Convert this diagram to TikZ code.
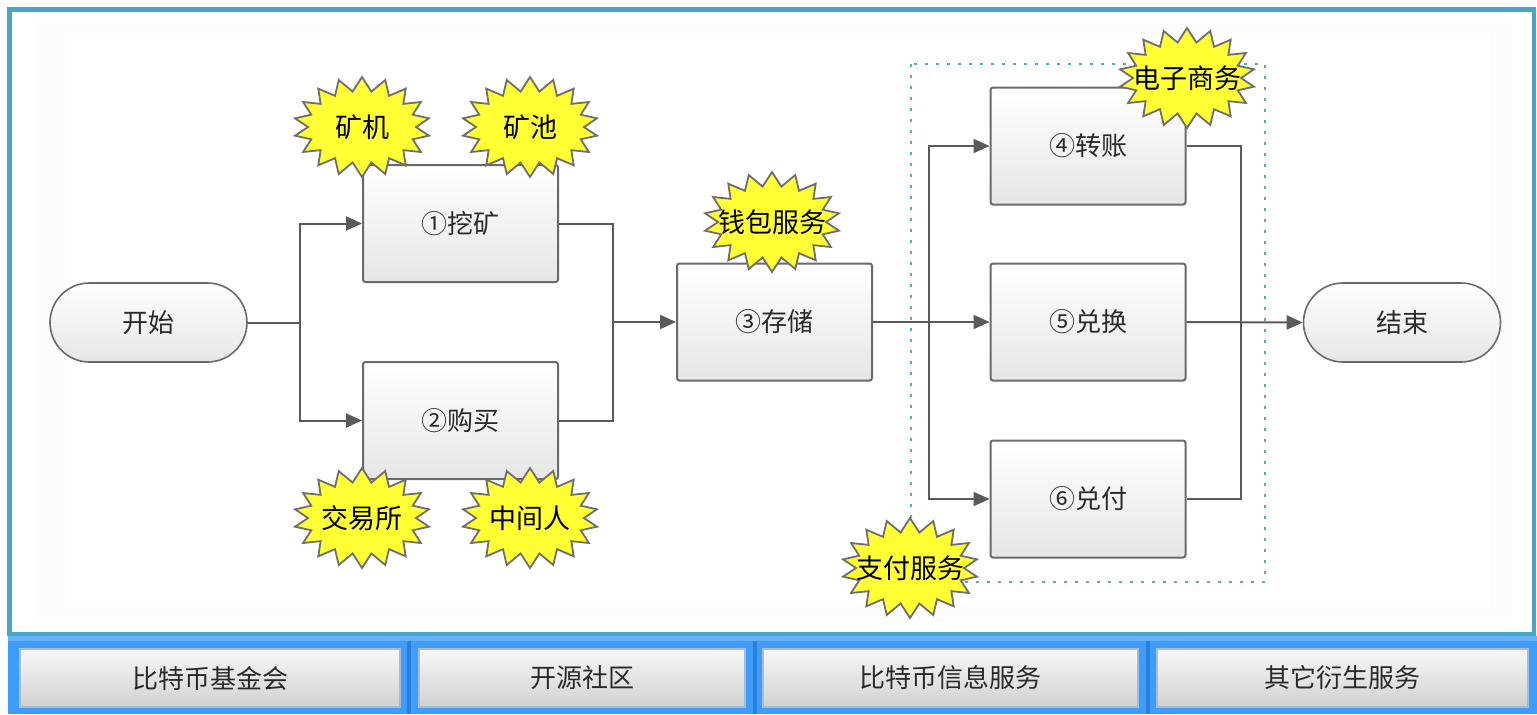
\documentclass[tikz,border=0pt]{standalone}
\usepackage{fontspec}
\setmainfont{Noto Sans CJK SC}
\usetikzlibrary{shapes.symbols,shapes.misc,arrows.meta}
\definecolor{frameteal}{HTML}{4AA5C3}
\definecolor{barblue}{HTML}{3E9CFB}
\definecolor{bardark}{HTML}{2A7FD8}
\definecolor{boxborder}{HTML}{6A6A6A}
\definecolor{boxbot}{HTML}{E6E6E6}
\definecolor{linegray}{HTML}{5A5A5A}
\definecolor{burstyellow}{HTML}{FFFF33}
\definecolor{burstgray}{HTML}{6E6E6E}
\definecolor{dotblue}{HTML}{4BADC8}
\definecolor{txt}{HTML}{2A2A2A}
\definecolor{btnborder}{HTML}{A9BCCF}
\newcommand{\bt}[1]{\makebox[0pt]{#1}}
\tikzset{
  proc/.style={draw=boxborder, line width=1pt, rounded corners=1.2pt, top color=white, bottom color=boxbot,
    minimum width=97.5pt, minimum height=58.5pt, inner sep=0pt, font=\fontsize{13}{15}\selectfont, text=txt},
  term/.style={rounded rectangle, draw=boxborder, line width=0.8pt, top color=white, bottom color=boxbot,
    minimum width=98.5pt, minimum height=39.5pt, inner sep=0pt, font=\fontsize{13}{15}\selectfont, text=txt},
  burst/.style={starburst, starburst points=18, random starburst=0, starburst point height=7pt,
    fill=burstyellow, draw=burstgray, line width=0.9pt, minimum width=68pt, minimum height=50pt,
    inner sep=0pt, font=\fontsize{13.5}{15}\selectfont, text=black},
  flow/.style={draw=linegray, line width=1pt, -{Triangle[length=8pt,width=7pt]}},
  link/.style={draw=linegray, line width=1pt},
  btn/.style={draw=btnborder, line width=0.6pt, top color=white!97!black, bottom color=white!82!black,
    inner sep=0pt, font=\fontsize{13}{15}\selectfont, text=txt}
}
\begin{document}
\begin{tikzpicture}[x=0.5pt,y=-0.5pt]
\useasboundingbox (0,0) rectangle (1537,714);
\fill[white] (0,0) rectangle (1537,714);
% inner background
\fill[black!1] (35,22) rectangle (1512,622);
\fill[white] (65,34) rectangle (1490,606);
% frame
\draw[frameteal, line width=2.2pt] (9.5,9.5) rectangle (1534,634);
% bottom bar
\fill[barblue] (8,636) rectangle (1537,714);
\fill[barblue!80!white] (8,636) rectangle (1537,641);
\foreach \x in {409,755,1148}{\fill[bardark] (\x-2,641) rectangle (\x+2,714);}
\node[btn, minimum width=190pt, minimum height=29pt] (b1) at (210,678) {比特币基金会};
\node[btn, minimum width=163pt, minimum height=29pt] (b2) at (582,678) {开源社区};
\node[btn, minimum width=187.5pt, minimum height=29pt] (b3) at (950.5,678) {比特币信息服务};
\node[btn, minimum width=185.5pt, minimum height=29pt] (b4) at (1342.5,678) {其它衍生服务};
% dotted group
\draw[dotblue, line width=1.1pt, dash pattern=on 1.5pt off 4pt] (911,64) rectangle (1265,582);
% nodes
\node[term] (start) at (148.5,322.5) {开始};
\node[proc] (n1) at (460.5,223.5) {①挖矿};
\node[proc] (n2) at (460.5,420.5) {②购买};
\node[proc] (n3) at (774.5,322) {③存储};
\node[proc] (n4) at (1088,146) {④转账};
\node[proc] (n5) at (1088,322) {⑤兑换};
\node[proc] (n6) at (1088,499) {⑥兑付};
\node[term] (end) at (1402,322.5) {结束};
% junctions
\coordinate (j1) at (300,322.5);
\coordinate (j2) at (613,322);
\coordinate (j3) at (929,322);
\coordinate (j4) at (1241,322);
% connectors
\draw[link] (start.east) -- (j1);
\draw[flow] (j1) |- (n1.west);
\draw[flow] (j1) |- (n2.west);
\draw[link] (n1.east) -| (j2);
\draw[link] (n2.east) -| (j2);
\draw[flow] (j2) -- (n3.west);
\draw[flow] (n3.east) -- (n5.west);
\draw[flow] (j3) |- (n4.west);
\draw[flow] (j3) |- (n6.west);
\draw[link] (n4.east) -| (j4);
\draw[link] (n6.east) -| (j4);
\draw[flow] (n5.east) -- (end.west);
% bursts
\node[burst] (s1) at (362,127) {\bt{矿机}};
\node[burst] (s2) at (530,127) {\bt{矿池}};
\node[burst] (s3) at (772,222) {\bt{钱包服务}};
\node[burst] (s4) at (1187,78) {\bt{电子商务}};
\node[burst] (s5) at (362,518) {\bt{交易所}};
\node[burst] (s6) at (530,518) {\bt{中间人}};
\node[burst] (s7) at (910,568) {\bt{支付服务}};
\end{tikzpicture}
\end{document}
